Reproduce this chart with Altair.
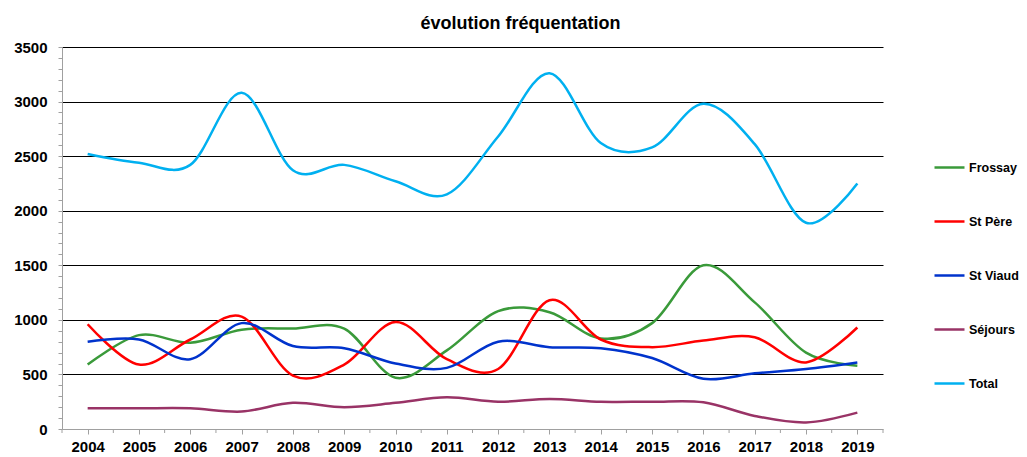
import altair as alt
import pandas as pd

years = list(range(2004, 2020))
frossay = [590, 860, 790, 910, 920, 920, 470, 720, 1080, 1070, 830, 970, 1500, 1160, 700, 580]
st_pere = [960, 590, 820, 1030, 490, 590, 980, 640, 550, 1180, 820, 750, 810, 840, 610, 930]
st_viaud = [800, 820, 640, 970, 760, 740, 600, 560, 800, 750, 740, 650, 460, 510, 550, 610]
sejours = [190, 190, 190, 160, 240, 200, 240, 290, 250, 275, 250, 250, 245, 120, 60, 150]
total = [2520, 2440, 2420, 3080, 2370, 2420, 2270, 2150, 2680, 3260, 2620, 2580, 2980, 2610, 1890, 2250]

series_names = ["Frossay", "St Père", "St Viaud", "Séjours", "Total"]
series_values = [frossay, st_pere, st_viaud, sejours, total]
colors = ["#3a9a3a", "#ff0000", "#0033cc", "#993366", "#00b0f0"]
widths = [2.5, 2.5, 2.5, 2.5, 5]

rows = []
for name, vals in zip(series_names, series_values):
    for y, v in zip(years, vals):
        rows.append({"year": y, "value": v, "series": name})
df = pd.DataFrame(rows)

# category boundaries (minor ticks between years)
bounds = pd.DataFrame({"b": [y - 0.5 for y in years] + [years[-1] + 0.5]})

FONT = "Liberation Sans"
y_ticks = list(range(0, 3501, 100))

xscale = alt.Scale(domain=[years[0] - 0.5, years[-1] + 0.5], nice=False, zero=False)
yscale = alt.Scale(domain=[0, 3500], nice=False)

lines = alt.Chart(df).mark_line(interpolate="cardinal").encode(
    x=alt.X("year:Q", scale=xscale,
            axis=alt.Axis(title=None, values=years, format="d",
                          labelOverlap=False, labelFlush=False,
                          labelFont=FONT, labelFontSize=15, labelFontWeight="bold",
                          labelColor="black", labelPadding=5,
                          domainColor="#a0a0a0", tickColor="#a0a0a0",
                          tickSize=5, grid=False)),
    y=alt.Y("value:Q", scale=yscale,
            axis=alt.Axis(title=None, values=y_ticks, format="d",
                          labelExpr="datum.value % 500 === 0 ? datum.label : ''",
                          labelOverlap=False, labelFlush=False,
                          labelFont=FONT, labelFontSize=15, labelFontWeight="bold",
                          labelColor="black", labelPadding=11,
                          domainColor="#a0a0a0", tickColor="#a0a0a0",
                          tickSize=4, grid=True, gridColor="black", gridWidth=1,
                          gridOpacity={"condition": {"test": "datum.value % 500 === 0 && datum.value > 0", "value": 1}, "value": 0})),
    color=alt.Color("series:N",
                    scale=alt.Scale(domain=series_names, range=colors),
                    legend=alt.Legend(title=None, orient="none", legendX=871, legendY=104,
                                      symbolType="stroke", symbolSize=900,
                                      labelFont=FONT, labelFontSize=12.5, labelFontWeight="bold",
                                      labelColor="black", rowPadding=31, labelOffset=3)),
    strokeWidth=alt.StrokeWidth("series:N",
                                scale=alt.Scale(domain=series_names, range=widths),
                                legend=None),
    order=alt.Order("year:Q"),
)

minor = alt.Chart(bounds).mark_rule(color="#a0a0a0", strokeWidth=1).encode(
    x=alt.X("b:Q", scale=xscale),
    y=alt.value(382),
    y2=alt.value(386),
)

chart = alt.layer(minor, lines).properties(
    width=821, height=382,
    title=alt.TitleParams("évolution fréquentation", font=FONT, fontSize=18,
                          fontWeight="bold", color="black", dx=48, offset=7),
    padding={"left": 54, "top": 39, "right": 136, "bottom": 27},
    autosize=alt.AutoSizeParams(type="none"),
).configure_view(stroke=None)

chart.save("out.html", embed_options={"renderer": "svg", "actions": False})
